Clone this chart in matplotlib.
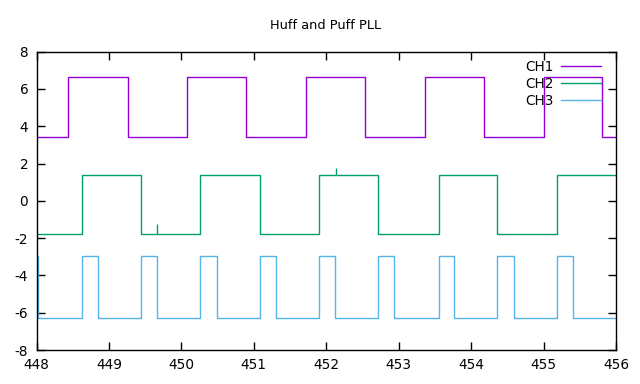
import matplotlib
matplotlib.use('Agg')
import matplotlib.pyplot as plt

# ---- data ----
title = "Huff and Puff PLL"
x_min, x_max = 448, 456
y_min, y_max = -8, 8
x_ticks = [448, 449, 450, 451, 452, 453, 454, 455, 456]
y_ticks = [-8, -6, -4, -2, 0, 2, 4, 6, 8]

ch1_edges = [448.44, 449.26, 450.08, 450.89, 451.72, 452.53, 453.36, 454.18, 455.00, 455.81]
ch1_levels = [3.40, 6.62]          # low, high
ch1_start = 0                      # starts low

ch2_edges = [448.63, 449.44, 450.26, 451.08, 451.90, 452.72, 453.55, 454.36, 455.18]
ch2_levels = [-1.80, 1.40]
ch2_start = 0
ch2_spike_x = [449.67, 452.13]
ch2_spike_base = [-1.80, 1.40]
ch2_spike_peak = [-1.22, 1.78]

ch3_edges = [448.02,
             448.63, 448.85, 449.44, 449.66, 450.26, 450.49, 451.08, 451.30,
             451.90, 452.12, 452.72, 452.94, 453.55, 453.76, 454.36, 454.59,
             455.18, 455.40]
ch3_levels = [-6.30, -2.98]
ch3_start = 1                      # starts high at left edge

colors = {"CH1": "#9400d3", "CH2": "#009e73", "CH3": "#56b4e9"}


def step_path(edges, levels, start):
    xs, ys = [x_min], [levels[start]]
    state = start
    for e in edges:
        xs.append(e); ys.append(levels[state])
        state = 1 - state
        xs.append(e); ys.append(levels[state])
    xs.append(x_max); ys.append(levels[state])
    return xs, ys


plt.rcParams['axes.unicode_minus'] = False
plt.rcParams['font.family'] = ['DejaVu Sans']

fig = plt.figure(figsize=(6.4, 3.84), dpi=100)
ax = fig.add_axes([36.5 / 640, 1 - 350 / 384, (616 - 36.5) / 640, (350 - 51.7) / 384])

for name, edges, levels, start in [("CH1", ch1_edges, ch1_levels, ch1_start),
                                   ("CH2", ch2_edges, ch2_levels, ch2_start),
                                   ("CH3", ch3_edges, ch3_levels, ch3_start)]:
    xs, ys = step_path(edges, levels, start)
    ax.plot(xs, ys, color=colors[name], lw=1.0, label=name)

ax.vlines(ch2_spike_x, ch2_spike_base, ch2_spike_peak, color=colors["CH2"], lw=1.0)

ax.set_xlim(x_min, x_max)
ax.set_ylim(y_min, y_max)
ax.set_xticks(x_ticks)
ax.set_yticks(y_ticks)
ax.tick_params(direction='in', length=6, width=1, top=True, right=True,
               labelsize=9.8, colors='black', pad=6)
for s in ax.spines.values():
    s.set_linewidth(1.0)

fig.text(326 / 640, 1 - 25.7 / 384, title, ha='center', va='center', fontsize=9.3)

leg = ax.legend(loc='upper right', markerfirst=False, frameon=False,
                prop={'size': 9.8},
                handlelength=2.9, handletextpad=0.55, labelspacing=0.2,
                borderaxespad=0.0, bbox_to_anchor=(0.983, 0.99))

fig.savefig('out.png', dpi=100)
